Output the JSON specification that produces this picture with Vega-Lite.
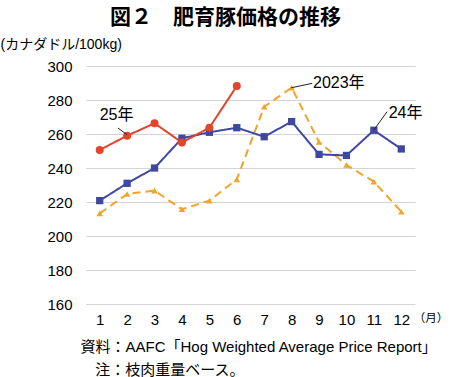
{
  "$schema": "https://vega.github.io/schema/vega-lite/v6.json",
  "width": 329,
  "height": 238,
  "autosize": "none",
  "padding": {"left": 86, "top": 66, "right": 35, "bottom": 73},
  "background": "white",
  "title": {"text": "図２　肥育豚価格の推移", "font": "Noto Sans CJK JP", "fontSize": 21, "fontWeight": "bold", "anchor": "middle", "dx": -25, "offset": 9, "color": "black"},
  "config": {"view": {"stroke": null}, "font": "Liberation Sans, Noto Sans CJK JP", "axis": {"labelOverlap": false}},
  "datasets": {
    "series": [
      {"year": "2023年", "month": 1, "price": 213.3},
      {"year": "2023年", "month": 2, "price": 224.7},
      {"year": "2023年", "month": 3, "price": 226.7},
      {"year": "2023年", "month": 4, "price": 215.7},
      {"year": "2023年", "month": 5, "price": 220.8},
      {"year": "2023年", "month": 6, "price": 233.3},
      {"year": "2023年", "month": 7, "price": 276.0},
      {"year": "2023年", "month": 8, "price": 287.3},
      {"year": "2023年", "month": 9, "price": 255.3},
      {"year": "2023年", "month": 10, "price": 241.8},
      {"year": "2023年", "month": 11, "price": 232.0},
      {"year": "2023年", "month": 12, "price": 214.3},
      {"year": "24年", "month": 1, "price": 220.8},
      {"year": "24年", "month": 2, "price": 231.0},
      {"year": "24年", "month": 3, "price": 240.0},
      {"year": "24年", "month": 4, "price": 257.5},
      {"year": "24年", "month": 5, "price": 261.0},
      {"year": "24年", "month": 6, "price": 263.7},
      {"year": "24年", "month": 7, "price": 258.4},
      {"year": "24年", "month": 8, "price": 267.3},
      {"year": "24年", "month": 9, "price": 248.0},
      {"year": "24年", "month": 10, "price": 247.4},
      {"year": "24年", "month": 11, "price": 262.2},
      {"year": "24年", "month": 12, "price": 251.2},
      {"year": "25年", "month": 1, "price": 250.6},
      {"year": "25年", "month": 2, "price": 259.0},
      {"year": "25年", "month": 3, "price": 266.3},
      {"year": "25年", "month": 4, "price": 255.0},
      {"year": "25年", "month": 5, "price": 263.7},
      {"year": "25年", "month": 6, "price": 288.2}
    ],
    "labels": [
      {"text": "25年", "month": 1.0, "price": 271.2},
      {"text": "2023年", "month": 8.78, "price": 290.0},
      {"text": "24年", "month": 11.54, "price": 272.4}
    ],
    "unit": [
      {"text": "（月）", "month": 12.45, "price": 151.0}
    ],
    "leaders": [
      {"month": 1.67, "price": 263.5, "month2": 2.0, "price2": 259.5},
      {"month": 7.99, "price": 287.2, "month2": 8.75, "price2": 289.8},
      {"month": 11.0, "price": 262.4, "month2": 11.48, "price2": 273.1}
    ]
  },
  "layer": [
    {
      "data": {"name": "series"},
      "mark": {"type": "line", "strokeWidth": 2},
      "encoding": {
        "x": {"field": "month", "type": "quantitative", "scale": {"domain": [0.5, 12.5], "nice": false},
          "axis": {"values": [1,2,3,4,5,6,7,8,9,10,11,12], "tickCount": 30, "format": "d", "grid": false, "domain": false, "ticks": false, "labelOverlap": false,
            "labelFontSize": 15, "labelPadding": 8, "labelColor": "black",
            "title": ["資料：AAFC「Hog Weighted Average Price Report」", "\u2800\u2005注：枝肉重量ベース。"],
            "titleAnchor": "start", "titleAlign": "left", "titleX": -6, "titleY": 35, "titleBaseline": "top",
            "titleFontSize": 15, "titleFontWeight": "normal", "titleLineHeight": 23, "titleColor": "black"}},
        "y": {"field": "price", "type": "quantitative", "scale": {"domain": [160, 300], "nice": false, "zero": false},
          "axis": {"values": [160,180,200,220,240,260,280,300], "tickCount": 30, "grid": true, "gridColor": "#d4d4d4", "gridWidth": 1.2, "domain": false, "ticks": false, "labelOverlap": false,
            "labelFontSize": 15, "labelPadding": 14, "labelColor": "black",
            "title": "(カナダドル/100kg)", "titleAngle": 0, "titleAlign": "left", "titleBaseline": "middle",
            "titleX": -86, "titleY": -22, "titleFontSize": 14, "titleFontWeight": "normal", "titleColor": "black"}},
        "color": {"field": "year", "type": "nominal", "scale": {"domain": ["2023年", "24年", "25年"], "range": ["#f0a428", "#3f48a0", "#e4432c"]}, "legend": null},
        "strokeDash": {"field": "year", "type": "nominal", "scale": {"domain": ["2023年", "24年", "25年"], "range": [[8, 5], [1, 0], [1, 0]]}, "legend": null}
      }
    },
    {
      "data": {"name": "series"},
      "mark": {"type": "point", "filled": true, "opacity": 1},
      "encoding": {
        "x": {"field": "month", "type": "quantitative"},
        "y": {"field": "price", "type": "quantitative"},
        "color": {"field": "year", "type": "nominal", "legend": null},
        "shape": {"field": "year", "type": "nominal", "scale": {"domain": ["2023年", "24年", "25年"], "range": ["triangle-up", "square", "circle"]}, "legend": null},
        "size": {"field": "year", "type": "nominal", "scale": {"domain": ["2023年", "24年", "25年"], "range": [42, 64, 64]}, "legend": null}
      }
    },
    {
      "data": {"name": "leaders"},
      "mark": {"type": "rule", "color": "#222", "strokeWidth": 1},
      "encoding": {
        "x": {"field": "month", "type": "quantitative"},
        "y": {"field": "price", "type": "quantitative"},
        "x2": {"field": "month2"},
        "y2": {"field": "price2"}
      }
    },
    {
      "data": {"name": "labels"},
      "mark": {"type": "text", "align": "left", "baseline": "middle", "color": "black", "fontSize": 16},
      "encoding": {
        "x": {"field": "month", "type": "quantitative"},
        "y": {"field": "price", "type": "quantitative"},
        "text": {"field": "text"}
      }
    },
    {
      "data": {"name": "unit"},
      "mark": {"type": "text", "align": "left", "baseline": "middle", "color": "black", "fontSize": 11.5, "font": "Noto Sans CJK JP"},
      "encoding": {
        "x": {"field": "month", "type": "quantitative"},
        "y": {"field": "price", "type": "quantitative"},
        "text": {"field": "text"}
      }
    }
  ]
}
